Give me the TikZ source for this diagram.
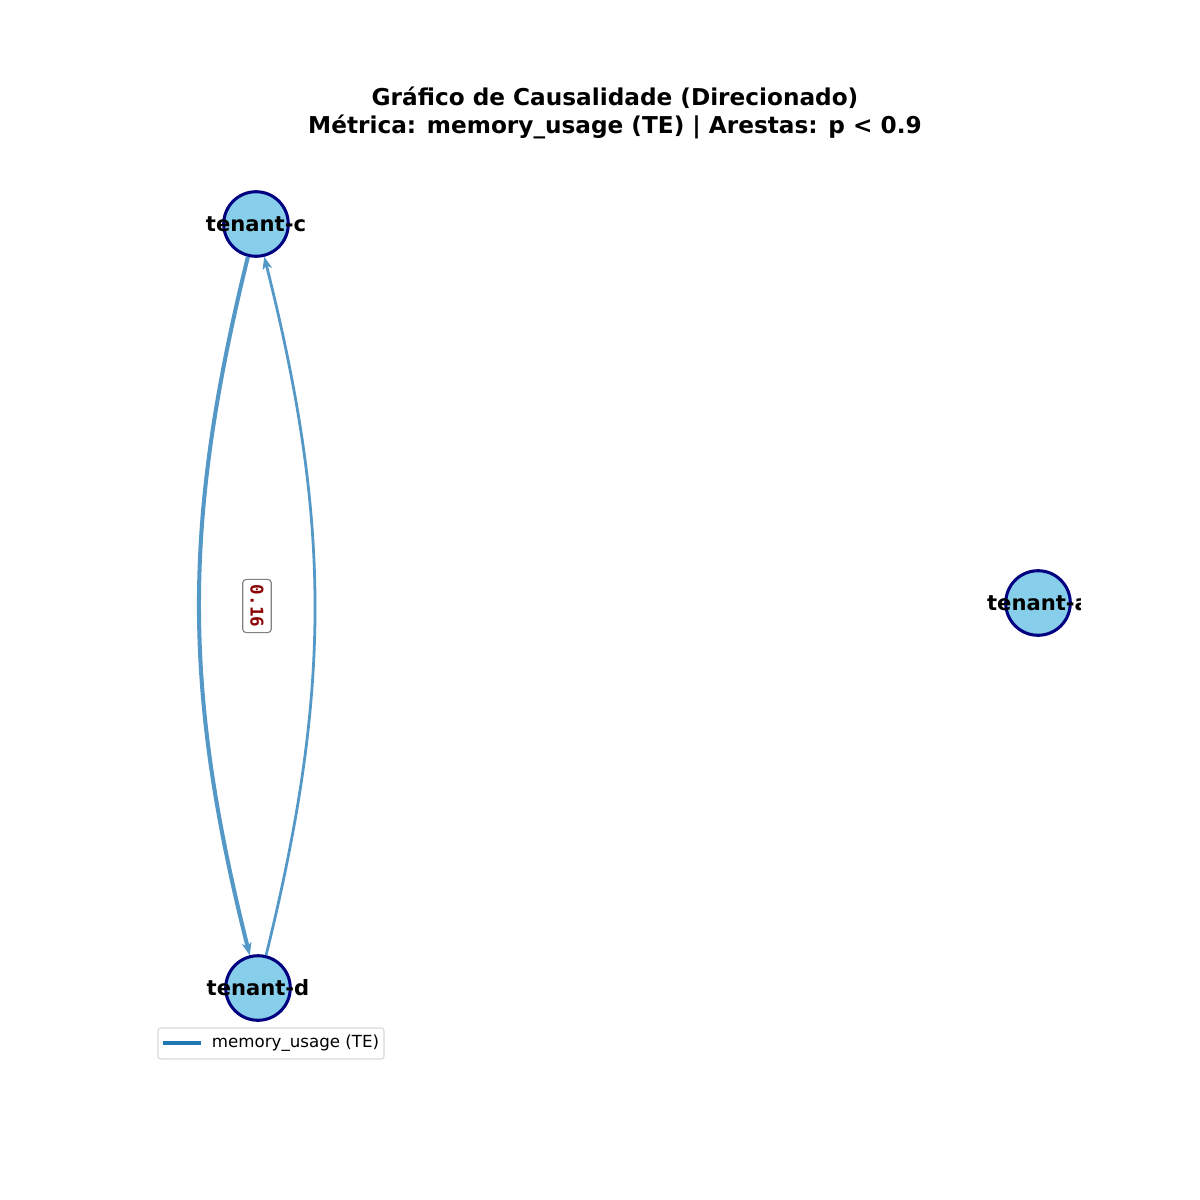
\documentclass[tikz,border=0pt]{standalone}
\usepackage{fontspec}
\setmainfont{DejaVu Sans}
\newfontfamily\labelmono{DejaVu Sans Mono}
\usepackage{xcolor}
\usepackage{tikz}
\usetikzlibrary{arrows.meta,positioning}
\definecolor{nodefill}{RGB}{135,206,235}
\definecolor{nodeline}{RGB}{0,0,128}
\definecolor{edgeblue}{RGB}{84,152,199}
\definecolor{legendblue}{RGB}{31,119,180}
\definecolor{labelred}{RGB}{139,0,0}
% node text may run past the circle
\newcommand{\tname}[1]{\makebox[0pt]{#1}}

\begin{document}
\begin{tikzpicture}[
			x=0.72pt, y=-0.72pt,
			tenant/.style={draw=nodeline, line width=2.2pt, circle, fill=nodefill, minimum size=46.5pt, inner sep=0pt, font=\bfseries\fontsize{15.2}{17}\selectfont},
			causal/.style={draw=edgeblue, -{Stealth[length=9pt, width=7pt, inset=2.5pt]}},
			weight/.style={draw=gray, rounded corners=2.5pt, fill=white, text=labelred, inner xsep=4pt, inner ysep=5.5pt, line width=0.8pt, font=\labelmono\bfseries\fontsize{12.6}{14}\selectfont},
			legendbox/.style={draw=black!15, rounded corners=2pt, fill=white, line width=0.8pt}
			]
			\useasboundingbox (0,0) rectangle (1200,1200);
			% title
			\node[align=center, font=\bfseries\fontsize{16.7}{20}\selectfont] (title) at (615,113)
				{Gráfico de Causalidade (Direcionado)\\Métrica: memory\_usage (TE) | Arestas: p < 0.9};
			% nodes
			\node[tenant] (tc) at (256,224) {\tname{tenant-c}};
			\node[tenant] (td) at (258,988) {\tname{tenant-d}};
			\begin{scope}
				\clip (0,0) rectangle (1080,1200);
				\node[tenant] (ta) at (1038,603) {\tname{tenant-a}};
			\end{scope}
			% edges
			\draw[causal, line width=2.9pt] (tc) to[bend right=14] (td);
			\draw[causal, line width=2pt] (td) to[bend right=14] (tc);
			\node[weight, rotate=-90] (w) at (257,606) {0.16};
			% legend
			\draw[legendbox] (158,1028) rectangle (384,1059);
			\coordinate (l1) at (163,1043);
			\coordinate (l2) at (201,1043);
			\draw[legendblue, line width=2.9pt] (l1) -- (l2);
			\node[anchor=west, font=\fontsize{12}{14}\selectfont] (lt) at (207,1043) {memory\_usage (TE)};
		\end{tikzpicture}
\end{document}
